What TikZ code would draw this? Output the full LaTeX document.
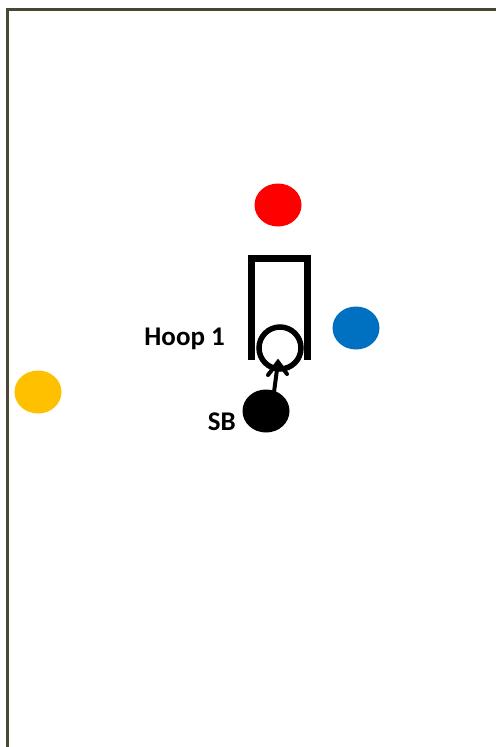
\documentclass[tikz,border=0pt]{standalone}
\usepackage{fontspec}
\setmainfont{Carlito}
\usetikzlibrary{shapes.geometric,arrows.meta}
\definecolor{framecol}{HTML}{4A4636}
\definecolor{redball}{HTML}{FF0000}
\definecolor{blueball}{HTML}{0070C0}
\definecolor{yellowball}{HTML}{FFC000}
\tikzset{
  ball/.style={ellipse, minimum width=47bp, minimum height=43bp, inner sep=0pt, draw=none},
  lbl/.style={font=\fontsize{27bp}{30bp}\selectfont\bfseries, inner sep=0pt},
  hoopline/.style={line width=7bp, line cap=butt, line join=miter},
  ring/.style={circle, draw=black, line width=5.5bp, minimum size=42bp, inner sep=0pt},
  shot/.style={line width=4bp, line cap=butt},
  barb/.style={line width=4bp, line cap=round, line join=miter},
  framestyle/.style={draw=framecol, line width=3bp}
}
\begin{document}
\begin{tikzpicture}[x=1bp,y=-1bp]
\useasboundingbox (0,0) rectangle (496,747);
\fill[white] (0,0) rectangle (496,747);
\draw[framestyle] (7,747) -- (7,9.5) -- (496,9.5);
\node[ball, fill=redball] (red) at (278,205) {};
\node[ball, fill=blueball] (blue) at (356,328) {};
\node[ball, fill=yellowball] (yellow) at (38,392) {};
\draw[hoopline] (251.5,360) -- (251.5,258.5) -- (307.5,258.5) -- (307.5,360);
\node[ring] (hoop) at (280,348) {};
\node[ball, fill=black] (sb) at (266,411) {};
\coordinate (tip) at (278,362);
\coordinate (barbl) at (268,375);
\coordinate (barbr) at (287,374);
\coordinate (base) at (274,392);
\draw[shot] (base) -- (tip);
\draw[barb] (barbl) -- (tip) -- (barbr);
\node[lbl, anchor=east] (hooplbl) at (225,339) {Hoop 1};
\node[lbl, anchor=east] (sblbl) at (236,422) {SB};
\end{tikzpicture}
\end{document}
